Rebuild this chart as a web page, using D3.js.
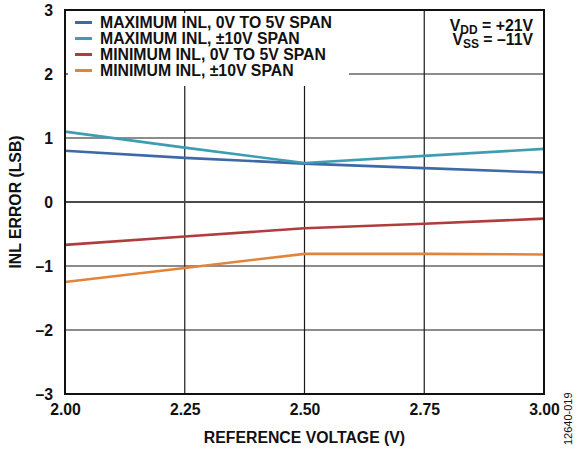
<!DOCTYPE html>
<html lang="en">
<head>
<meta charset="UTF-8">
<title>INL error vs reference voltage</title>
<script src="https://cdn.jsdelivr.net/npm/d3@7"></script>
<style>
  body { margin: 0; background: #fff; }
  text { font-family: "Liberation Sans", Arial, sans-serif; font-weight: bold; fill: #111; }
</style>
</head>
<body>
<script>
// data
var refVoltage = [2.00, 2.25, 2.50, 2.75, 3.00];
var maxInl05 = [0.80, 0.69, 0.60, 0.53, 0.46];
var maxInl10 = [1.10, 0.85, 0.61, 0.72, 0.83];
var minInl05 = [-0.67, -0.54, -0.41, -0.34, -0.26];
var minInl10 = [-1.25, -1.03, -0.81, -0.81, -0.82];
var seriesNames = ["MAXIMUM INL, 0V TO 5V SPAN", "MAXIMUM INL, \u00B110V SPAN",
                   "MINIMUM INL, 0V TO 5V SPAN", "MINIMUM INL, \u00B110V SPAN"];
var seriesColors = ["#3f69a6", "#3f9db3", "#b03c3e", "#e2853a"];
var xTicks = [2.00, 2.25, 2.50, 2.75, 3.00];
var yTicks = [-3, -2, -1, 0, 1, 2, 3];

var w = 577, h = 452;
var padL = 65, padR = 544, padT = 10, padB = 394;
var fs = "15.8px";

var series = [maxInl05, maxInl10, minInl05, minInl10];

var svg = d3.select("body").append("svg")
  .attr("width", w)
  .attr("height", h);

var x = d3.scaleLinear().domain([2, 3]).range([padL, padR]);
var y = d3.scaleLinear().domain([-3, 3]).range([padB, padT]);

// grid
svg.append("g").selectAll("line")
  .data(xTicks.slice(1, -1))
  .enter().append("line")
  .attr("x1", function(d) { return x(d); })
  .attr("x2", function(d) { return x(d); })
  .attr("y1", padT).attr("y2", padB)
  .attr("stroke", "#1a1a1a").attr("stroke-width", 1.2);

svg.append("g").selectAll("line")
  .data(yTicks.slice(1, -1))
  .enter().append("line")
  .attr("x1", padL).attr("x2", padR)
  .attr("y1", function(d) { return y(d); })
  .attr("y2", function(d) { return y(d); })
  .attr("stroke", function(d) { return d === 0 ? "#4a4a4a" : "#1a1a1a"; })
  .attr("stroke-width", function(d) { return d === 0 ? 2 : 1.2; });

// data lines
var line = d3.line()
  .x(function(d, i) { return x(refVoltage[i]); })
  .y(function(d) { return y(d); });

svg.append("g").selectAll("path")
  .data(series)
  .enter().append("path")
  .attr("d", line)
  .attr("fill", "none")
  .attr("stroke", function(d, i) { return seriesColors[i]; })
  .attr("stroke-width", 2.6);

// legend box sits over the grid
svg.append("rect")
  .attr("x", padL).attr("y", padT)
  .attr("width", 349 - padL).attr("height", 86 - padT)
  .attr("fill", "#fff");

// small inside ticks hidden under the legend
svg.append("line")
  .attr("x1", x(2.25)).attr("x2", x(2.25))
  .attr("y1", padT).attr("y2", padT + 3)
  .attr("stroke", "#1a1a1a").attr("stroke-width", 1.2);
svg.append("line")
  .attr("x1", padL).attr("x2", padL + 3)
  .attr("y1", y(2)).attr("y2", y(2))
  .attr("stroke", "#1a1a1a").attr("stroke-width", 1.2);

var legend = svg.append("g").selectAll("g")
  .data(seriesNames)
  .enter().append("g")
  .attr("transform", function(d, i) { return "translate(75," + (22.5 + i * 16) + ")"; });

legend.append("line")
  .attr("x1", 0).attr("x2", 17)
  .attr("stroke", function(d, i) { return seriesColors[i]; })
  .attr("stroke-width", 3);

legend.append("text")
  .attr("x", 25).attr("y", 5.5)
  .style("font-size", fs)
  .text(function(d) { return d; });

// frame
svg.append("rect")
  .attr("x", padL).attr("y", padT)
  .attr("width", padR - padL).attr("height", padB - padT)
  .attr("fill", "none")
  .attr("stroke", "#111").attr("stroke-width", 2);

// axes (labels only)
var xAxis = d3.axisBottom(x).tickValues(xTicks).tickSize(0).tickPadding(0)
  .tickFormat(d3.format(".2f"));
var gx = svg.append("g")
  .attr("transform", "translate(0," + padB + ")")
  .call(xAxis);
gx.select(".domain").remove();
gx.selectAll("text")
  .attr("y", 21)
  .attr("dy", null)
  .style("font-size", fs)
  .style("font-family", "'Liberation Sans', Arial, sans-serif")
  .attr("fill", "#111");

var yAxis = d3.axisLeft(y).tickValues(yTicks).tickSize(0).tickPadding(12)
  .tickFormat(function(d) { return d < 0 ? "\u2013" + Math.abs(d) : d; });
var gy = svg.append("g")
  .attr("transform", "translate(" + padL + ",0)")
  .call(yAxis);
gy.select(".domain").remove();
gy.selectAll("text")
  .style("font-size", fs)
  .style("font-family", "'Liberation Sans', Arial, sans-serif")
  .attr("fill", "#111");

svg.append("text")
  .attr("x", (padL + padR) / 2)
  .attr("y", 443)
  .attr("text-anchor", "middle")
  .style("font-size", fs)
  .text("REFERENCE VOLTAGE (V)");

svg.append("text")
  .attr("transform", "translate(21," + ((padT + padB) / 2) + ") rotate(-90)")
  .attr("text-anchor", "middle")
  .style("font-size", fs)
  .text("INL ERROR (LSB)");

// supply annotation
var vdd = svg.append("text")
  .attr("x", 533).attr("y", 31)
  .attr("text-anchor", "end")
  .style("font-size", fs);
vdd.append("tspan").text("V");
vdd.append("tspan").attr("dy", 3).style("font-size", "12px").text("DD");
vdd.append("tspan").attr("dy", -3).text(" = +21V");

var vss = svg.append("text")
  .attr("x", 533).attr("y", 45)
  .attr("text-anchor", "end")
  .style("font-size", fs);
vss.append("tspan").text("V");
vss.append("tspan").attr("dy", 3).style("font-size", "12px").text("SS");
vss.append("tspan").attr("dy", -3).text(" = \u201311V");

// figure id
svg.append("text")
  .attr("transform", "translate(572,445) rotate(-90)")
  .style("font-size", "11px")
  .style("font-weight", "normal")
  .attr("fill", "#444")
  .text("12640-019");
</script>
</body>
</html>
